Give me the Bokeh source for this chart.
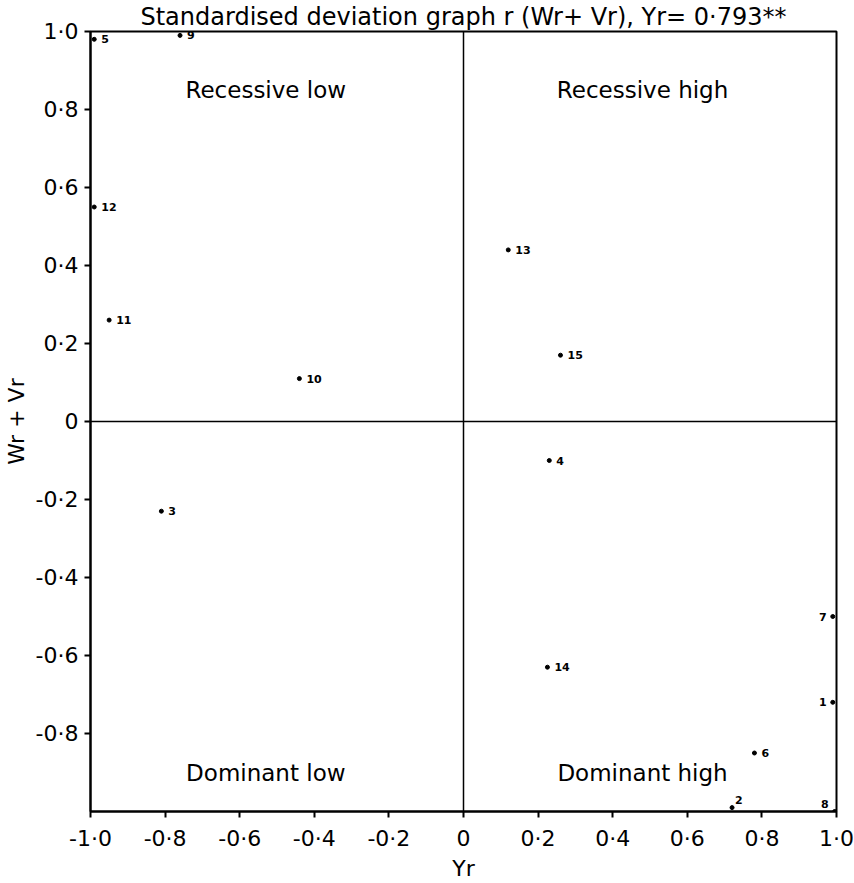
from bokeh.plotting import figure
from bokeh.models import ColumnDataSource, FixedTicker, Label, Range1d, Span
from bokeh.embed import file_html
from bokeh.resources import INLINE

# Array numbers and their standardised deviations
ids = ["1", "2", "3", "4", "5", "6", "7", "8", "9", "10", "11", "12", "13", "14", "15"]
yr = [0.99, 0.72, -0.81, 0.23, -0.99, 0.78, 0.99, 0.995, -0.76, -0.44, -0.95, -0.99, 0.12, 0.225, 0.26]
wr_vr = [-0.72, -0.99, -0.23, -0.10, 0.98, -0.85, -0.50, -1.0, 0.99, 0.11, 0.26, 0.55, 0.44, -0.63, 0.17]

tick_values = [-1.0, -0.8, -0.6, -0.4, -0.2, 0.0, 0.2, 0.4, 0.6, 0.8, 1.0]
tick_labels = ["-1·0", "-0·8", "-0·6", "-0·4", "-0·2", "0", "0·2", "0·4", "0·6", "0·8", "1·0"]
y_tick_values = [-0.8, -0.6, -0.4, -0.2, 0.0, 0.2, 0.4, 0.6, 0.8, 1.0]

FONT = "DejaVu Sans"

p = figure(width=854, height=883, output_backend="svg", toolbar_location=None,
           x_range=Range1d(-1.0, 1.0), y_range=Range1d(-1.0, 1.0),
           min_border_left=88, min_border_right=18, min_border_top=0, min_border_bottom=66)

p.title.text = "Standardised deviation graph r (Wr+ Vr), Yr= 0·793**"
p.title.text_font = FONT
p.title.text_font_size = "24px"
p.title.text_font_style = "normal"
p.title.text_color = "black"
p.title.align = "center"
p.title.standoff = 1

p.grid.visible = False
p.background_fill_color = "white"
p.border_fill_color = "white"
p.outline_line_color = "black"
p.outline_line_width = 2
p.outline_line_alpha = 1

for ax in (p.xaxis[0], p.yaxis[0]):
    ax.axis_line_width = 2
    ax.axis_line_color = "black"
    ax.major_tick_line_color = "black"
    ax.major_tick_line_width = 2
    ax.major_tick_out = 6
    ax.major_tick_in = 0
    ax.minor_tick_line_color = None
    ax.major_label_text_font = FONT
    ax.major_label_text_font_size = "22px"
    ax.major_label_text_color = "black"
    ax.axis_label_text_font = FONT
    ax.axis_label_text_font_size = "22px"
    ax.axis_label_text_font_style = "normal"
    ax.axis_label_text_color = "black"

p.xaxis.ticker = FixedTicker(ticks=tick_values)
p.yaxis.ticker = FixedTicker(ticks=y_tick_values)
p.xaxis.major_label_overrides = {v: s for v, s in zip(tick_values, tick_labels)}
p.yaxis.major_label_overrides = {v: s for v, s in zip(tick_values, tick_labels)}
p.xaxis.major_label_standoff = 8
p.yaxis.major_label_standoff = 6
p.xaxis.axis_label = "Yr"
p.xaxis.axis_label_standoff = 2
p.yaxis.axis_label = "Wr + Vr"
p.yaxis.axis_label_standoff = 4

# quadrant dividers
p.add_layout(Span(location=0, dimension="width", line_color="black", line_width=1.5))
p.add_layout(Span(location=0, dimension="height", line_color="black", line_width=1.5))

# quadrant names
for txt, x, y in [("Recessive low", -0.53, 0.85), ("Recessive high", 0.48, 0.85),
                  ("Dominant low", -0.53, -0.90), ("Dominant high", 0.48, -0.90)]:
    p.add_layout(Label(x=x, y=y, text=txt, text_font=FONT, text_font_size="23px",
                       text_align="center", text_baseline="middle", text_color="black"))

src = ColumnDataSource(dict(x=yr, y=wr_vr, id=ids))
p.scatter("x", "y", source=src, size=4, color="black")

# number labels beside each point
right_side = [i for i, n in enumerate(ids) if n not in ("1", "7", "8", "2")]
for i in right_side:
    p.add_layout(Label(x=yr[i], y=wr_vr[i], text=ids[i], x_offset=7, y_offset=0,
                       text_font=FONT, text_font_size="11px", text_font_style="bold",
                       text_color="black", text_baseline="middle", text_align="left"))
for n, dx, dy in [("1", -6, 0), ("7", -6, 0), ("8", -6, 8), ("2", 3, 8)]:
    i = ids.index(n)
    p.add_layout(Label(x=yr[i], y=wr_vr[i], text=n, x_offset=dx, y_offset=dy,
                       text_font=FONT, text_font_size="11px", text_font_style="bold",
                       text_color="black", text_baseline="middle",
                       text_align="right" if dx < 0 else "left"))

open("out.html", "w").write(file_html(p, INLINE))
